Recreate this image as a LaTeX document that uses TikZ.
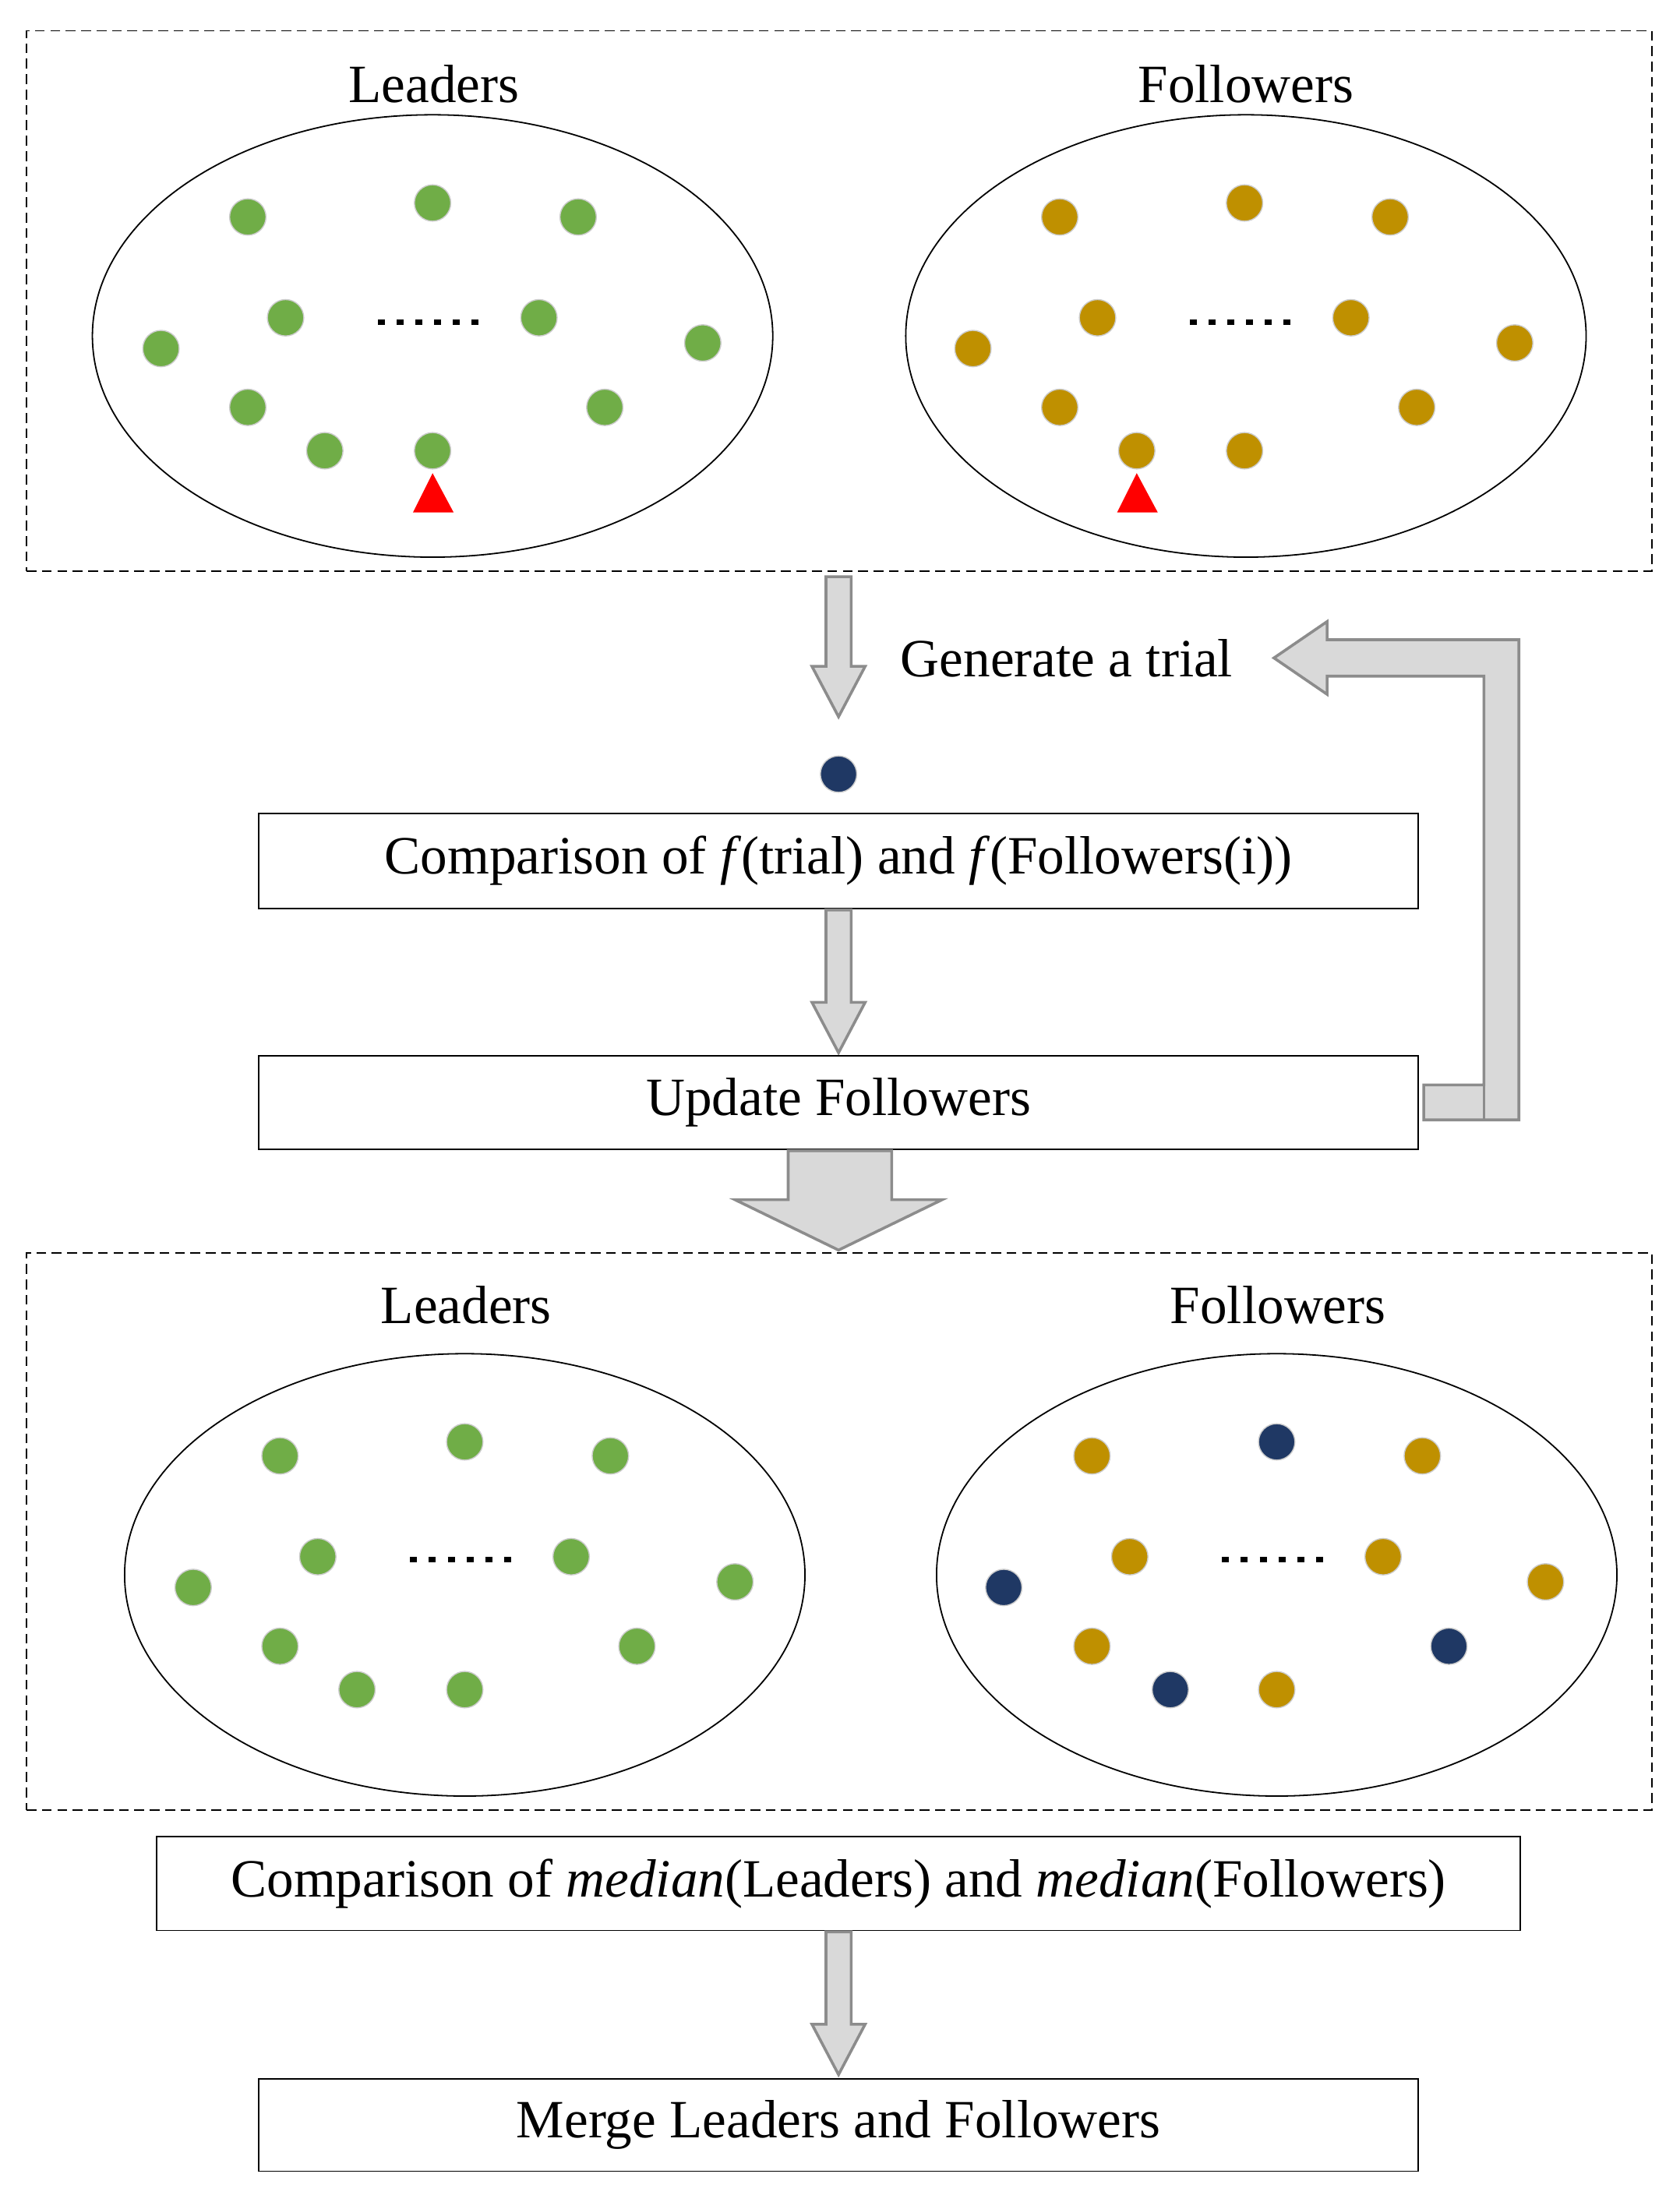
\documentclass[tikz,border=0pt]{standalone}
\usepackage{fontspec}
\setmainfont{Liberation Serif}
\usetikzlibrary{shapes.geometric}
\definecolor{lg}{HTML}{70AD47}
\definecolor{gd}{HTML}{BF9000}
\definecolor{nv}{HTML}{1F3864}
\definecolor{af}{HTML}{D9D9D9}
\definecolor{ae}{HTML}{8C8C8C}
\begin{document}
\begin{tikzpicture}[x=1pt,y=-1pt,
  lbl/.style={font=\fontsize{38.5}{46}\selectfont},
  box/.style={draw,line width=1pt,font=\fontsize{38.5}{46}\selectfont,inner sep=0},
  grp/.style={draw,dash pattern=on 7pt off 4pt,line width=0.8pt},
  ell/.style={draw,line width=1pt},
  dot/.style={circle,minimum size=26pt,inner sep=0,draw=gray!40,line width=0.8pt},
  G/.style={dot,fill=lg},Y/.style={dot,fill=gd},N/.style={dot,fill=nv},
  dts/.style={line width=4pt,dash pattern=on 5pt off 8.4pt},
  arr/.style={fill=af,draw=ae,line width=2pt,line join=miter}]
\useasboundingbox (0,0) rectangle (1200,1568);
% top group
\node[grp,minimum width=1161pt,minimum height=386pt] (g1) at (599.5,215) {};
\draw[ell] (309,240) ellipse [x radius=243,y radius=158];
\draw[ell] (890,240) ellipse [x radius=243,y radius=158];
\node[lbl] (l1) at (310,60) {Leaders};
\node[lbl] (f1) at (890,60) {Followers};
\foreach \x/\y [count=\i] in {177/155,309/145,413/155,204/227,385/227,115/249,502/245,177/291,432/291,232/322,309/322}
  {\node[G] (a\i) at (\x,\y) {}; \node[Y] (b\i) at (\x+580,\y) {};}
\draw[dts] (270,230) -- (345,230);
\draw[dts] (850,230) -- (925,230);
\fill[red] (295,366) -- (309,338) -- (324,366) -- cycle;
\fill[red] (798,366) -- (812,338) -- (827,366) -- cycle;
% arrow 1
\draw[arr] (590,412) -- (608,412) -- (608,476) -- (618,476) -- (599,512) -- (580,476) -- (590,476) -- cycle;
\node[lbl] (gt) at (762,470) {Generate a trial};
\node[N] (tr) at (599,553) {};
\node[box,minimum width=828pt,minimum height=68pt] (c1) at (599,615) {Comparison of \textit{f}(trial) and \textit{f}(Followers(i))};
\draw[arr] (590,650) -- (608,650) -- (608,716) -- (618,716) -- (599,752) -- (580,716) -- (590,716) -- cycle;
\node[box,minimum width=828pt,minimum height=67pt] (u1) at (599,787.5) {Update Followers};
% feedback arrow
\draw[arr] (1017,775) -- (1060,775) -- (1060,483) -- (948,483) -- (948,496) -- (910,470) -- (948,444) -- (948,457) -- (1085,457) -- (1085,800) -- (1017,800) -- cycle;
\draw[ae,line width=2pt] (1060,775) -- (1060,800);
% big arrow
\draw[arr] (563,822) -- (637,822) -- (637,857) -- (673,857) -- (599,893) -- (525,857) -- (563,857) -- cycle;
% bottom group
\node[grp,minimum width=1161pt,minimum height=398pt] (g2) at (599.5,1094) {};
\draw[ell] (332,1125) ellipse [x radius=243,y radius=158];
\draw[ell] (912,1125) ellipse [x radius=243,y radius=158];
\node[lbl] (l2) at (333,932) {Leaders};
\node[lbl] (f2) at (913,932) {Followers};
\foreach \x/\y [count=\i] in {200/1040,332/1030,436/1040,227/1112,408/1112,138/1134,525/1130,200/1176,455/1176,255/1207,332/1207}
  {\node[G] (c\i) at (\x,\y) {};}
\foreach \x/\y/\s [count=\i] in {780/1040/Y,912/1030/N,1016/1040/Y,807/1112/Y,988/1112/Y,717/1134/N,1104/1130/Y,780/1176/Y,1035/1176/N,836/1207/N,912/1207/Y}
  {\node[\s] (e\i) at (\x,\y) {};}
\draw[dts] (293,1114) -- (368,1114);
\draw[dts] (873,1114) -- (948,1114);
\node[box,minimum width=974pt,minimum height=67pt] (c2) at (599,1345.5) {Comparison of \textit{median}(Leaders) and \textit{median}(Followers)};
\draw[arr] (590,1380) -- (608,1380) -- (608,1446) -- (618,1446) -- (599,1482) -- (580,1446) -- (590,1446) -- cycle;
\node[box,minimum width=828pt,minimum height=66pt] (m) at (599,1518) {Merge Leaders and Followers};
\end{tikzpicture}
\end{document}
